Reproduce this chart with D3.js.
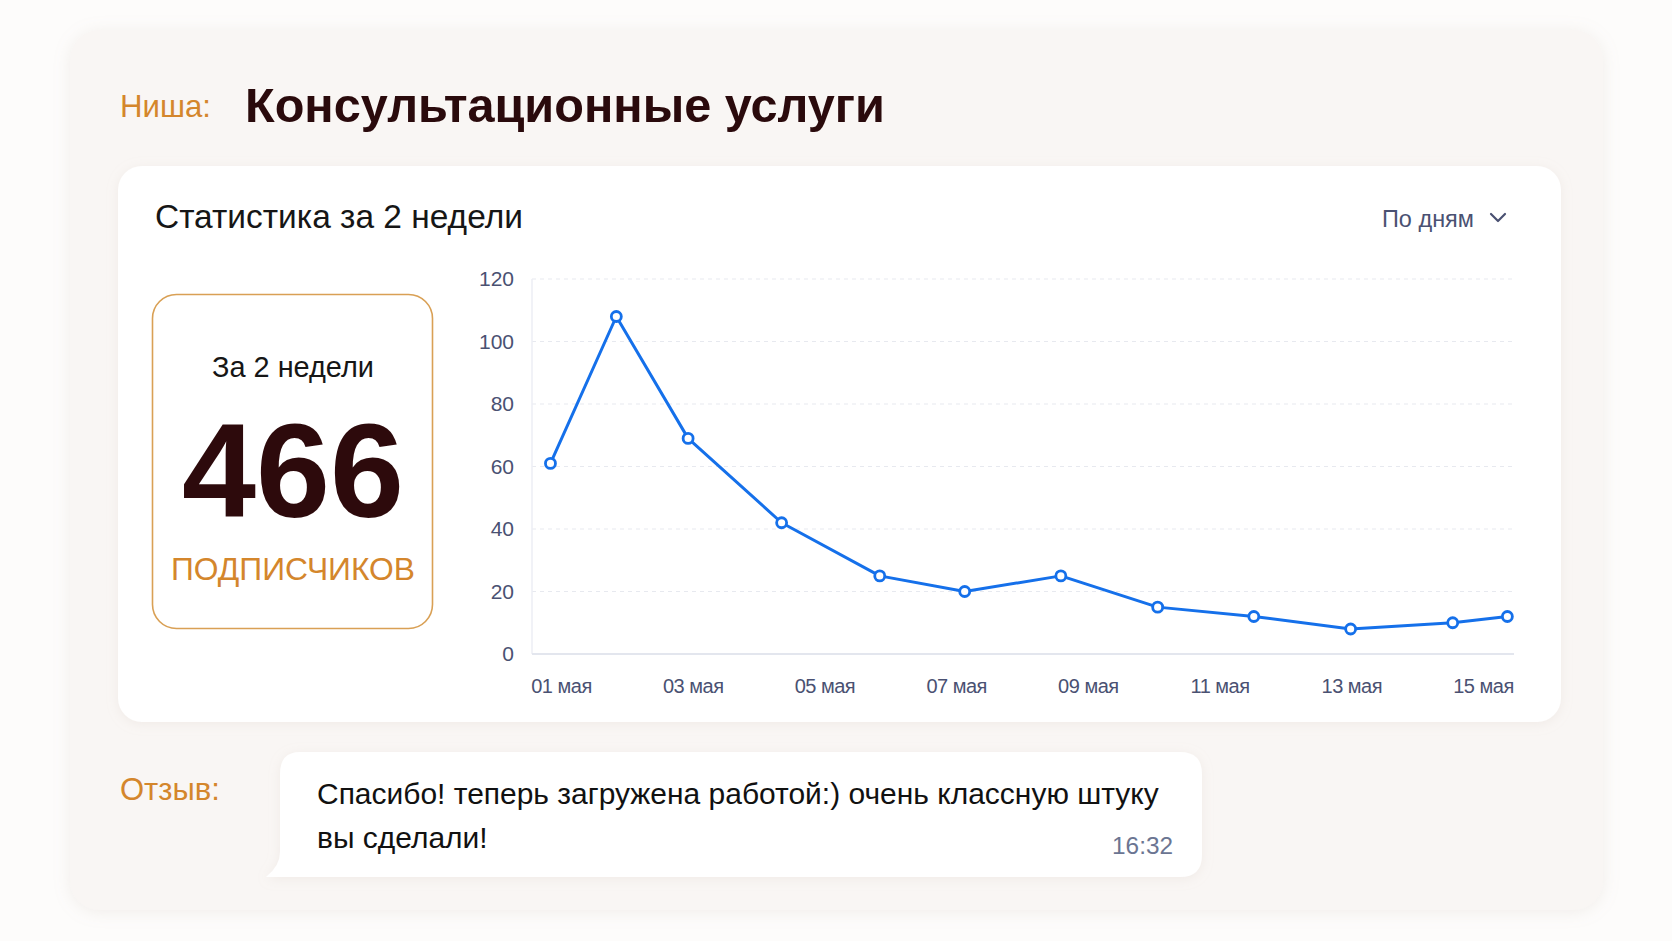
<!DOCTYPE html>
<html>
<head>
<meta charset="utf-8">
<script src="https://cdn.jsdelivr.net/npm/d3@7"></script>
<style>
  html, body { margin: 0; padding: 0; background: #fdfcfb; }
  svg { display: block; }
  text { font-family: "Liberation Sans", Arial, sans-serif; }
</style>
</head>
<body>
<svg id="chart" width="1672" height="941"></svg>
<script>
// ---- data ----
const niche = "Консультационные услуги";
const nicheLabel = "Ниша:";
const panelTitle = "Статистика за 2 недели";
const periodSelector = "По дням";
const totalLabel = "За 2 недели";
const totalValue = 466;
const totalUnit = "ПОДПИСЧИКОВ";
const reviewLabel = "Отзыв:";
const reviewLines = ["Спасибо! теперь загружена работой:) очень классную штуку", "вы сделали!"];
const reviewTime = "16:32";

// day position (May) and daily subscribers
const pointDays = [0.84, 1.84, 2.93, 4.35, 5.84, 7.13, 8.59, 10.06, 11.52, 12.99, 14.54, 15.37];
const subscribers = [61, 108, 69, 42, 25, 20, 25, 15, 12, 8, 10, 12];
const xTickDays = [1, 3, 5, 7, 9, 11, 13, 15];
const xTickLabels = ["01 мая", "03 мая", "05 мая", "07 мая", "09 мая", "11 мая", "13 мая", "15 мая"];
const yTicks = [0, 20, 40, 60, 80, 100, 120];

// ---- drawing ----
const svg = d3.select("#chart");
const defs = svg.append("defs");
const f1 = defs.append("filter").attr("id", "softShadow").attr("x", "-10%").attr("y", "-10%").attr("width", "120%").attr("height", "130%");
f1.append("feDropShadow").attr("dx", 0).attr("dy", 2).attr("stdDeviation", 8).attr("flood-color", "#b9a89a").attr("flood-opacity", 0.18);
const f2 = defs.append("filter").attr("id", "cardShadow").attr("x", "-10%").attr("y", "-10%").attr("width", "120%").attr("height", "130%");
f2.append("feDropShadow").attr("dx", 0).attr("dy", 2).attr("stdDeviation", 6).attr("flood-color", "#c8b8aa").attr("flood-opacity", 0.18);

function fit(sel, w) {
  const cur = sel.node().getComputedTextLength();
  const fs = parseFloat(sel.attr("font-size"));
  sel.attr("font-size", (fs * w / cur).toFixed(2));
  return sel;
}

// outer card
svg.append("rect").attr("x", 70).attr("y", 30).attr("width", 1533).attr("height", 880)
  .attr("rx", 30).attr("fill", "#f9f6f4").attr("filter", "url(#softShadow)");

// header
fit(svg.append("text").attr("x", 120).attr("y", 117).attr("font-size", 30).attr("fill", "#d4862c").text(nicheLabel), 91);
fit(svg.append("text").attr("x", 245).attr("y", 122).attr("font-size", 50).attr("font-weight", "bold")
  .attr("fill", "#2a0a0c").text(niche), 640);

// stats card
svg.append("rect").attr("x", 118).attr("y", 166).attr("width", 1443).attr("height", 556)
  .attr("rx", 24).attr("fill", "#ffffff").attr("filter", "url(#cardShadow)");
fit(svg.append("text").attr("x", 155).attr("y", 228).attr("font-size", 31).attr("fill", "#161616")
  .attr("font-family", "Roboto, 'Liberation Sans', sans-serif").text(panelTitle), 368);
fit(svg.append("text").attr("x", 1382).attr("y", 227).attr("font-size", 23).attr("fill", "#4a5172")
  .attr("font-family", "Roboto, 'Liberation Sans', sans-serif").text(periodSelector), 92);
svg.append("path").attr("d", "M1491,214 L1498,221 L1505,214").attr("fill", "none")
  .attr("stroke", "#4a5172").attr("stroke-width", 2.2).attr("stroke-linecap", "round").attr("stroke-linejoin", "round");

// total box
svg.append("rect").attr("x", 152.5).attr("y", 294.5).attr("width", 280).attr("height", 334)
  .attr("rx", 24).attr("fill", "#ffffff").attr("stroke", "#d9a055").attr("stroke-width", 1.6);
fit(svg.append("text").attr("x", 293).attr("y", 377).attr("text-anchor", "middle").attr("font-size", 28)
  .attr("fill", "#161616").attr("font-family", "Roboto, 'Liberation Sans', sans-serif").text(totalLabel), 162);
fit(svg.append("text").attr("x", 293).attr("y", 517).attr("text-anchor", "middle").attr("font-size", 130)
  .attr("font-weight", "bold").attr("fill", "#2d0a0c").text(String(totalValue)), 222);
fit(svg.append("text").attr("x", 293).attr("y", 580).attr("text-anchor", "middle").attr("font-size", 33)
  .attr("fill", "#d4862c").text(totalUnit), 244);

// chart
const plotLeft = 532, plotRight = 1514;
const x = d3.scaleLinear().domain([1, 15]).range([561, 1483]);
const y = d3.scaleLinear().domain([0, 120]).range([654, 279]);
const g = svg.append("g");

g.selectAll("line.grid").data(yTicks.filter(t => t > 0)).join("line").attr("class", "grid")
  .attr("x1", plotLeft).attr("x2", plotRight).attr("y1", d => y(d)).attr("y2", d => y(d))
  .attr("stroke", "#e7e9ef").attr("stroke-width", 1.2).attr("stroke-dasharray", "4,4");
g.append("line").attr("x1", plotLeft).attr("x2", plotLeft).attr("y1", y(120)).attr("y2", y(0))
  .attr("stroke", "#eceef4").attr("stroke-width", 1.5);
g.append("line").attr("x1", plotLeft).attr("x2", plotRight).attr("y1", y(0)).attr("y2", y(0))
  .attr("stroke", "#e3e6ee").attr("stroke-width", 2);

const yAxis = d3.axisLeft(y).tickValues(yTicks).tickSize(0).tickPadding(0);
const ya = g.append("g").attr("transform", `translate(514,0)`).call(yAxis);
ya.select(".domain").remove();
ya.selectAll("text").attr("font-size", 21).attr("fill", "#4a5172")
  .attr("font-family", "Roboto, 'Liberation Sans', sans-serif");

const xAxis = d3.axisBottom(x).tickValues(xTickDays).tickFormat((d, i) => xTickLabels[i]).tickSize(0).tickPadding(0);
const xa = g.append("g").attr("transform", `translate(0,${y(0) + 25})`).call(xAxis);
xa.select(".domain").remove();
xa.selectAll("text").attr("font-size", 20).attr("fill", "#4a5172")
  .attr("font-family", "Roboto, 'Liberation Sans', sans-serif").attr("letter-spacing", "-0.5");

const pts = pointDays.map((d, i) => ({ d, v: subscribers[i] }));
g.append("path").datum(pts)
  .attr("d", d3.line().x(p => x(p.d)).y(p => y(p.v)))
  .attr("fill", "none").attr("stroke", "#1570ea").attr("stroke-width", 3).attr("stroke-linejoin", "round");
g.selectAll("circle.pt").data(pts).join("circle").attr("class", "pt")
  .attr("cx", p => x(p.d)).attr("cy", p => y(p.v)).attr("r", 5)
  .attr("fill", "#ffffff").attr("stroke", "#1570ea").attr("stroke-width", 2.8);

// review
fit(svg.append("text").attr("x", 120).attr("y", 800).attr("font-size", 30).attr("fill", "#d4862c").text(reviewLabel), 100);
svg.append("path")
  .attr("d", "M300,752 H1180 Q1202,752 1202,774 V855 Q1202,877 1180,877 H266 Q280,866 280,852 V774 Q280,752 300,752 Z")
  .attr("fill", "#ffffff").attr("filter", "url(#cardShadow)");
const l1 = svg.append("text").attr("x", 317).attr("y", 804).attr("font-size", 28).attr("fill", "#111111")
  .attr("font-family", "Roboto, 'Liberation Sans', sans-serif").text(reviewLines[0]);
fit(l1, 842);
svg.append("text").attr("x", 317).attr("y", 848).attr("font-size", l1.attr("font-size")).attr("fill", "#111111")
  .attr("font-family", "Roboto, 'Liberation Sans', sans-serif").text(reviewLines[1]);
fit(svg.append("text").attr("x", 1173).attr("y", 854).attr("text-anchor", "end").attr("font-size", 24)
  .attr("fill", "#6b7592").attr("font-family", "Roboto, 'Liberation Sans', sans-serif").text(reviewTime), 61);
</script>
</body>
</html>
